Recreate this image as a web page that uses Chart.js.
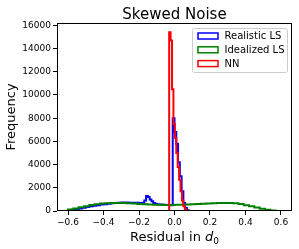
<!DOCTYPE html>
<html>
<head>
<meta charset="utf-8">
<script src="https://cdn.jsdelivr.net/npm/chart.js@4/dist/chart.umd.min.js"></script>
<style>
  html, body { margin: 0; padding: 0; background: #fff; }
  #wrap { width: 299px; height: 249px; }
</style>
</head>
<body>
<div id="wrap"><canvas id="chart" width="299" height="249"></canvas></div>
<script>
// histogram bin edges and counts
const realEdges = [-0.60, -0.58, -0.56, -0.54, -0.52, -0.50, -0.48, -0.46, -0.44, -0.42,
                   -0.40, -0.38, -0.36, -0.34, -0.32, -0.30, -0.28, -0.26, -0.24, -0.22,
                   -0.20, -0.19, -0.18, -0.17, -0.16, -0.15, -0.14, -0.13, -0.12, -0.11,
                   -0.10, -0.09, -0.08, -0.07, -0.06, -0.05, -0.04, -0.03, -0.02, -0.01,
                   0.00, 0.01, 0.02, 0.03, 0.04, 0.05, 0.06, 0.07, 0.08, 0.09, 0.10];
const realCounts = [20, 60, 110, 160, 220, 280, 340, 400, 450, 500,
                    550, 590, 630, 660, 690, 710, 730, 730, 720, 720,
                    710, 700, 700, 720, 900, 1300, 1200, 1000, 850, 700,
                    620, 580, 560, 550, 540, 530, 520, 520, 510, 500,
                    8000, 6800, 5800, 4200, 3000, 1700, 700, 250, 60, 10];

const idealEdges = [-0.60, -0.57, -0.54, -0.51, -0.48, -0.45, -0.42, -0.39, -0.36, -0.33,
                    -0.30, -0.27, -0.24, -0.21, -0.18, -0.15, -0.12, -0.09, -0.06, -0.03,
                    0.00, 0.03, 0.06, 0.09, 0.12, 0.15, 0.18, 0.21, 0.24, 0.27,
                    0.30, 0.33, 0.36, 0.39, 0.42, 0.45, 0.48, 0.51, 0.54, 0.57, 0.60];
const idealCounts = [40, 120, 220, 320, 420, 510, 590, 640, 670, 680,
                     690, 680, 660, 640, 610, 580, 560, 540, 530, 520,
                     520, 530, 540, 560, 580, 600, 620, 640, 660, 680,
                     690, 700, 670, 600, 500, 400, 300, 200, 110, 40];

const nnEdges = [-0.030, -0.022, -0.014, -0.006, 0.002, 0.010, 0.018, 0.026,
                 0.034, 0.042, 0.050, 0.058, 0.066, 0.074, 0.082];
const nnCounts = [3700, 15400, 14700, 10500, 7500, 6300, 5000, 3800,
                  2700, 1700, 900, 400, 120, 30];

const seriesNames = ['Realistic LS', 'Idealized LS', 'NN'];
const seriesColors = ['#0000ff', '#008000', '#ff0000'];
const xTicks = [-0.6, -0.4, -0.2, 0.0, 0.2, 0.4, 0.6];
const yTicks = [0, 2000, 4000, 6000, 8000, 10000, 12000, 14000, 16000];

function stepPoints(edges, counts) {
    const pts = [{ x: edges[0], y: 0 }];
    counts.forEach((c, i) => pts.push({ x: edges[i], y: c }));
    pts.push({ x: edges[edges.length - 1], y: 0 });
    return pts;
}

const FONT = "'DejaVu Sans', sans-serif";

const decor = {
    id: 'decor',
    afterDraw(chart) {
        const ctx = chart.ctx;
        const a = chart.chartArea;
        ctx.save();
        // frame
        ctx.strokeStyle = '#000';
        ctx.lineWidth = 1;
        ctx.strokeRect(Math.round(a.left) + 0.5, Math.round(a.top) + 0.5,
                       Math.round(a.right - a.left) - 1, Math.round(a.bottom - a.top) - 1);

        const cx = (a.left + a.right) / 2;
        ctx.fillStyle = '#000';

        // title
        ctx.font = '15px ' + FONT;
        ctx.textAlign = 'center';
        ctx.textBaseline = 'alphabetic';
        ctx.fillText('Skewed Noise', cx, 19);

        // x title: Residual in d0
        const main = 'Residual in ';
        ctx.font = '13px ' + FONT;
        const w1 = ctx.measureText(main).width;
        ctx.font = 'italic 13px ' + FONT;
        const w2 = ctx.measureText('d').width;
        ctx.font = '9px ' + FONT;
        const w3 = ctx.measureText('0').width;
        let x = cx - (w1 + w2 + w3) / 2;
        const by = 241;
        ctx.textAlign = 'left';
        ctx.font = '13px ' + FONT;
        ctx.fillText(main, x, by);
        x += w1;
        ctx.font = 'italic 13px ' + FONT;
        ctx.fillText('d', x, by);
        x += w2;
        ctx.font = '9px ' + FONT;
        ctx.fillText('0', x, by + 3);

        // y title
        ctx.save();
        ctx.translate(12, (a.top + a.bottom) / 2);
        ctx.rotate(-Math.PI / 2);
        ctx.font = '13px ' + FONT;
        ctx.textAlign = 'center';
        ctx.textBaseline = 'middle';
        ctx.fillText('Frequency', 0, 0);
        ctx.restore();

        // legend
        const lx = 192, ly = 28, lw = 95, lh = 44;
        ctx.fillStyle = 'rgba(255,255,255,0.8)';
        ctx.strokeStyle = '#cccccc';
        ctx.lineWidth = 1;
        ctx.beginPath();
        ctx.roundRect(lx + 0.5, ly + 0.5, lw, lh, 2);
        ctx.fill();
        ctx.stroke();
        ctx.font = '10px ' + FONT;
        ctx.textBaseline = 'middle';
        ctx.textAlign = 'left';
        seriesNames.forEach((name, i) => {
            const yy = ly + 8 + i * 13.8;
            ctx.strokeStyle = seriesColors[i];
            ctx.lineWidth = 1.5;
            ctx.strokeRect(lx + 6, yy - 3, 20, 6);
            ctx.fillStyle = '#000';
            ctx.fillText(name, lx + 32.5, yy + 0.5);
        });
        ctx.restore();
    }
};

const lineStyle = { stepped: 'after', pointRadius: 0, fill: false, borderWidth: 2, tension: 0 };

new Chart(document.getElementById('chart'), {
    type: 'line',
    data: {
        datasets: [
            { label: seriesNames[0], data: stepPoints(realEdges, realCounts),
              borderColor: seriesColors[0], order: 2, ...lineStyle },
            { label: seriesNames[1], data: stepPoints(idealEdges, idealCounts),
              borderColor: seriesColors[1], order: 1, ...lineStyle },
            { label: seriesNames[2], data: stepPoints(nnEdges, nnCounts),
              borderColor: seriesColors[2], order: 0, ...lineStyle }
        ]
    },
    options: {
        responsive: false,
        animation: false,
        devicePixelRatio: 1,
        layout: { padding: { top: 23, right: 7, left: 0, bottom: 0 } },
        plugins: {
            legend: { display: false },
            title: { display: false },
            tooltip: { enabled: false }
        },
        scales: {
            x: {
                type: 'linear',
                min: -0.662,
                max: 0.662,
                afterBuildTicks: s => { s.ticks = xTicks.map(v => ({ value: v })); },
                afterFit: s => { s.height = 38; },
                border: { display: false },
                grid: { drawOnChartArea: false, drawTicks: true, tickLength: 4, color: '#000' },
                ticks: {
                    color: '#000',
                    font: { family: FONT, size: 9 },
                    padding: 2,
                    maxRotation: 0,
                    callback: v => v.toFixed(1).replace('-', '\u2212')
                }
            },
            y: {
                min: 0,
                max: 16200,
                afterBuildTicks: s => { s.ticks = yTicks.map(v => ({ value: v })); },
                afterFit: s => { s.width = 57; },
                border: { display: false },
                grid: { drawOnChartArea: false, drawTicks: true, tickLength: 4, color: '#000' },
                ticks: {
                    color: '#000',
                    font: { family: FONT, size: 9 },
                    padding: 2,
                    callback: v => String(v)
                }
            }
        }
    },
    plugins: [decor]
});
</script>
</body>
</html>
